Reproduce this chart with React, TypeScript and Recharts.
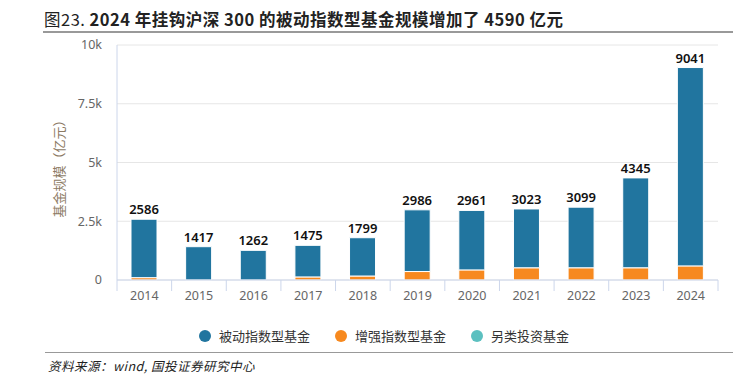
import React from "react";
import { BarChart, Bar, XAxis, YAxis, CartesianGrid, Legend, LabelList } from "recharts";

const years = ["2014", "2015", "2016", "2017", "2018", "2019", "2020", "2021", "2022", "2023", "2024"];
// stack labels shown above each bar (亿元)
const totalScale = [2586, 1417, 1262, 1475, 1799, 2986, 2961, 3023, 3099, 4345, 9041];
const enhancedScale = [100, 0, 0, 130, 170, 360, 430, 520, 520, 520, 600];
const alternativeScale = [0, 0, 0, 0, 0, 0, 0, 0, 0, 0, 0];
const yTicks = [0, 2500, 5000, 7500, 10000];
const seriesNames = ["被动指数型基金", "增强指数型基金", "另类投资基金"];

const COLORS = ["#21759f", "#f7891f", "#5cc0c0"];
const FONT = '"Noto Sans", "Noto Sans CJK SC", sans-serif';
const CJK = '"Noto Sans CJK SC", "Noto Sans", sans-serif';

const data = years.map((year, i) => ({
  year,
  total: totalScale[i],
  passive: totalScale[i] - enhancedScale[i] - alternativeScale[i],
  enhanced: enhancedScale[i],
  alternative: alternativeScale[i],
}));

const fmtK = (v: number) => (v === 0 ? "0" : `${v / 1000}k`);

function YearTick(props: any) {
  const { x, y, payload } = props;
  const half = payload.offset ?? 27.3;
  const axisY = y - 11;
  const last = payload.value === years[years.length - 1];
  return (
    <g>
      <line x1={x - half} x2={x - half} y1={axisY} y2={axisY + 11} stroke="#ccd6eb" />
      {last && <line x1={x + half} x2={x + half} y1={axisY} y2={axisY + 11} stroke="#ccd6eb" />}
      <text x={x} y={y} dy="0.71em" textAnchor="middle" fill="#666" fontSize={12.5} fontFamily={FONT}>
        {payload.value}
      </text>
    </g>
  );
}

function AxisTitle({ viewBox }: any) {
  const cx = viewBox.x + 58;
  const cy = viewBox.y + viewBox.height / 2 + 3;
  return (
    <text
      x={cx}
      y={cy}
      transform={`rotate(-90, ${cx}, ${cy})`}
      textAnchor="middle"
      dominantBaseline="central"
      fill="#8c7a64"
      fontSize={13}
      fontFamily={CJK}
    >
      基金规模（亿元）
    </text>
  );
}

function LegendRow() {
  return (
    <div style={{ display: "flex", justifyContent: "flex-start", paddingLeft: 199, fontFamily: CJK }}>
      {seriesNames.map((name, i) => (
        <div key={name} style={{ display: "flex", alignItems: "center", marginRight: 25 }}>
          <span
            style={{ width: 12, height: 12, borderRadius: 6, background: COLORS[i], display: "inline-block", marginRight: 8 }}
          />
          <span style={{ fontSize: 13, color: "#333" }}>{name}</span>
        </div>
      ))}
    </div>
  );
}

export default function App() {
  return (
    <div style={{ position: "absolute", left: 0, top: 0, width: 733, height: 378, background: "#fff", overflow: "hidden" }}>
      <BarChart
        width={733}
        height={378}
        data={data}
        margin={{ top: 45, right: 15, bottom: 68, left: 0 }}
        barCategoryGap={0}
      >
        <CartesianGrid vertical={false} stroke="#e6e6e6" />
        <XAxis
          dataKey="year"
          height={30}
          tickLine={false}
          tickSize={0}
          tickMargin={11}
          axisLine={{ stroke: "#ccd6eb" }}
          tick={<YearTick />}
          interval={0}
        />
        <YAxis
          width={117}
          domain={[0, 10000]}
          ticks={yTicks}
          tickFormatter={fmtK}
          tickLine={false}
          tickMargin={9}
          axisLine={{ stroke: "#ccd6eb" }}
          tick={{ fill: "#666", fontSize: 12.5, fontFamily: FONT }}
          label={<AxisTitle />}
        />
        <Legend
          layout="horizontal"
          verticalAlign="middle"
          align="center"
          wrapperStyle={{ top: 326, left: 0, width: 733 }}
          content={<LegendRow />}
        />
        <Bar dataKey="alternative" name={seriesNames[2]} stackId="a" fill={COLORS[2]} barSize={26} isAnimationActive={false} />
        <Bar dataKey="enhanced" name={seriesNames[1]} stackId="a" fill={COLORS[1]} stroke="#fff" strokeWidth={1} barSize={26} isAnimationActive={false} />
        <Bar dataKey="passive" name={seriesNames[0]} stackId="a" fill={COLORS[0]} stroke="#fff" strokeWidth={1} barSize={26} isAnimationActive={false}>
          <LabelList dataKey="total" position="top" offset={5} fill="#111" fontSize={13} fontWeight={600} fontFamily={FONT} />
        </Bar>
      </BarChart>
      <div style={{ position: "absolute", left: 44, top: 9, whiteSpace: "nowrap", fontFamily: CJK, fontSize: 16.5, letterSpacing: 0.5, lineHeight: "20px", color: "#222" }}>
        <span>图23. </span>
        <span style={{ fontWeight: "bold" }}>2024 年挂钩沪深 300 的被动指数型基金规模增加了 4590 亿元</span>
      </div>
      <div style={{ position: "absolute", left: 43, top: 31, width: 690, height: 2, background: "#999" }} />
      <div style={{ position: "absolute", left: 45, top: 352, width: 688, height: 1, background: "#999" }} />
      <div style={{ position: "absolute", left: 48, top: 358, whiteSpace: "nowrap", fontFamily: CJK, fontSize: 12.5, letterSpacing: 0.5, lineHeight: "16px", fontStyle: "italic", color: "#222" }}>
        资料来源：wind, 国投证券研究中心
      </div>
    </div>
  );
}
